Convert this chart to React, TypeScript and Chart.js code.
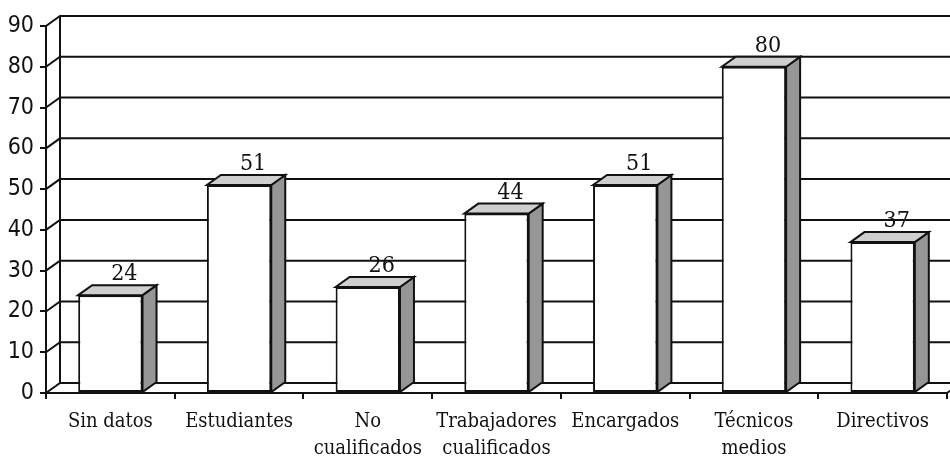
import { useEffect, useRef } from "react";
import { Chart, registerables } from "chart.js";

Chart.register(...registerables);

// Occupational categories and their counts
const categories: (string | string[])[] = [
  "Sin datos",
  "Estudiantes",
  ["No", "cualificados"],
  ["Trabajadores", "cualificados"],
  "Encargados",
  ["Técnicos", "medios"],
  "Directivos",
];
const values: number[] = [24, 51, 26, 44, 51, 80, 37];

const yMin = 0;
const yMax = 90;
const yStep = 10;

// Perspective offset of the back plane relative to the front plane
const DX = 14;
const DY = -10;

const AXIS_FONT = '"Liberation Sans Narrow", "Arial Narrow", "DejaVu Sans Condensed", sans-serif';
const CAT_FONT = '"DejaVu Serif Condensed", "DejaVu Serif", serif';

const depthPlugin = {
  id: "depth3d",
  beforeDatasetsDraw(chart: any) {
    const { ctx, chartArea: a, scales } = chart;
    const y = scales.y;
    ctx.save();
    ctx.strokeStyle = "#111";
    ctx.lineWidth = 2;
    ctx.lineJoin = "miter";

    // back wall grid lines, joined to the front axis by the side wall diagonals
    for (let v = yMin; v <= yMax; v += yStep) {
      const py = y.getPixelForValue(v);
      ctx.beginPath();
      ctx.moveTo(a.left, py);
      ctx.lineTo(a.left + DX, py + DY);
      ctx.lineTo(chart.width + 20, py + DY);
      ctx.stroke();
    }
    // back edge of the left wall
    ctx.beginPath();
    ctx.moveTo(a.left + DX, y.getPixelForValue(yMin) + DY);
    ctx.lineTo(a.left + DX, y.getPixelForValue(yMax) + DY);
    ctx.stroke();
    // right edge of the floor
    ctx.beginPath();
    ctx.moveTo(a.right, a.bottom);
    ctx.lineTo(a.right + DX, a.bottom + DY);
    ctx.stroke();

    // side and top faces of each column
    const meta = chart.getDatasetMeta(0);
    meta.data.forEach((bar: any) => {
      const { x: bx, y: by, base, width } = bar.getProps(["x", "y", "base", "width"], true);
      const l = bx - width / 2;
      const r = bx + width / 2;
      ctx.fillStyle = "#969696";
      ctx.beginPath();
      ctx.moveTo(r, by);
      ctx.lineTo(r + DX, by + DY);
      ctx.lineTo(r + DX, base + DY);
      ctx.lineTo(r, base);
      ctx.closePath();
      ctx.fill();
      ctx.stroke();
      ctx.fillStyle = "#cfcfcf";
      ctx.beginPath();
      ctx.moveTo(l, by);
      ctx.lineTo(l + DX, by + DY);
      ctx.lineTo(r + DX, by + DY);
      ctx.lineTo(r, by);
      ctx.closePath();
      ctx.fill();
      ctx.stroke();
    });
    ctx.restore();
  },
  afterDatasetsDraw(chart: any) {
    const { ctx } = chart;
    const meta = chart.getDatasetMeta(0);
    ctx.save();
    ctx.fillStyle = "#111";
    ctx.font = `23px ${CAT_FONT}`;
    ctx.textAlign = "center";
    ctx.textBaseline = "alphabetic";
    meta.data.forEach((bar: any, i: number) => {
      const { x: bx, y: by } = bar.getProps(["x", "y"], true);
      ctx.fillText(String(values[i]), bx + DX, by + DY - 5);
    });
    ctx.restore();
  },
};

export default function App() {
  const canvasRef = useRef<HTMLCanvasElement | null>(null);

  useEffect(() => {
    const canvas = canvasRef.current;
    if (!canvas) return;
    const chart = new Chart(canvas, {
      type: "bar",
      data: {
        labels: categories,
        datasets: [
          {
            data: values,
            backgroundColor: "#ffffff",
            borderColor: "#111",
            borderWidth: 2,
            borderSkipped: false,
            categoryPercentage: 1,
            barPercentage: 0.5,
          },
        ],
      },
      options: {
        responsive: false,
        animation: false,
        devicePixelRatio: 1,
        layout: { padding: { top: 26, right: 3, left: 0, bottom: 0 } },
        plugins: {
          legend: { display: false },
          tooltip: { enabled: false },
        },
        scales: {
          x: {
            afterFit: (s: any) => {
              s.height = 66;
            },
            grid: {
              offset: true,
              drawOnChartArea: false,
              drawTicks: true,
              tickLength: 6,
              color: "#111",
              lineWidth: 2,
            },
            border: { display: true, color: "#111", width: 2 },
            ticks: {
              color: "#111",
              padding: 9,
              maxRotation: 0,
              autoSkip: false,
              font: { family: CAT_FONT, size: 20, lineHeight: 1.35 },
            },
          },
          y: {
            min: yMin,
            max: yMax,
            afterFit: (s: any) => {
              s.width = 46;
            },
            grid: {
              drawOnChartArea: false,
              drawTicks: true,
              tickLength: 6,
              color: "#111",
              lineWidth: 2,
            },
            border: { display: true, color: "#111", width: 2 },
            ticks: {
              stepSize: yStep,
              color: "#111",
              padding: 6,
              font: { family: AXIS_FONT, size: 23 },
            },
          },
        },
      },
      plugins: [depthPlugin],
    });
    return () => chart.destroy();
  }, []);

  return (
    <div style={{ position: "absolute", left: 0, top: 0, width: 950, height: 459, background: "#fff" }}>
      <canvas ref={canvasRef} width={950} height={459} />
    </div>
  );
}
